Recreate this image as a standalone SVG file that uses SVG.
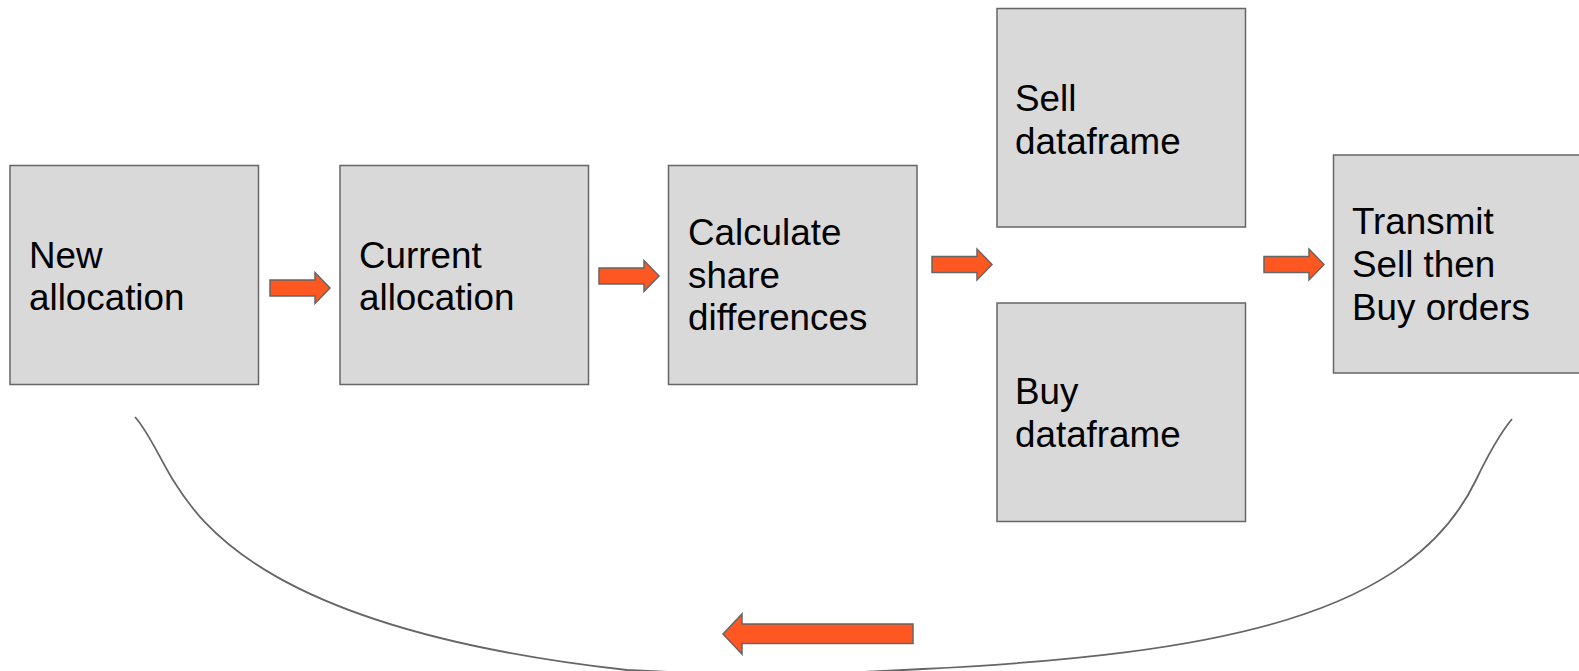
<svg xmlns="http://www.w3.org/2000/svg" width="1579" height="671" viewBox="0 0 1579 671">
  <style>
    .box { fill: #d9d9d9; stroke: #666666; stroke-width: 1.5; }
    .lbl { font-family: "Liberation Sans", Arial, sans-serif; font-size: 36.8px; fill: #000000; }
    .arrow { fill: #ff5722; stroke: #666666; stroke-width: 1.5; stroke-linejoin: miter; }
    .curve { fill: none; stroke: #666666; stroke-width: 1.8; }
  </style>
  <defs>
    <path id="smallArrow" d="M0,-8 H45 V-15.5 L60,0 L45,15.5 V8 H0 Z"/>
  </defs>
  <rect width="1579" height="671" fill="#ffffff"/>

  <g id="node-new-allocation">
    <rect class="box" x="10" y="165.5" width="248.5" height="219"/>
    <text class="lbl" x="29" y="267.5">New</text>
    <text class="lbl" x="29" y="310">allocation</text>
  </g>

  <g id="node-current-allocation">
    <rect class="box" x="340" y="165.5" width="248.5" height="219"/>
    <text class="lbl" x="359" y="267.5">Current</text>
    <text class="lbl" x="359" y="310">allocation</text>
  </g>

  <g id="node-calculate">
    <rect class="box" x="668.5" y="165.5" width="248.5" height="219"/>
    <text class="lbl" x="688" y="245">Calculate</text>
    <text class="lbl" x="688" y="287.5">share</text>
    <text class="lbl" x="688" y="330">differences</text>
  </g>

  <g id="node-sell">
    <rect class="box" x="997" y="8.5" width="248.5" height="218.5"/>
    <text class="lbl" x="1015" y="110.5">Sell</text>
    <text class="lbl" x="1015" y="153.5">dataframe</text>
  </g>

  <g id="node-buy">
    <rect class="box" x="997" y="303" width="248.5" height="218.5"/>
    <text class="lbl" x="1015" y="404">Buy</text>
    <text class="lbl" x="1015" y="447">dataframe</text>
  </g>

  <g id="node-transmit">
    <rect class="box" x="1333.5" y="155" width="248.5" height="218"/>
    <text class="lbl" x="1352" y="234">Transmit</text>
    <text class="lbl" x="1352" y="277">Sell then</text>
    <text class="lbl" x="1352" y="320">Buy orders</text>
  </g>

  <g id="connectors">
    <use href="#smallArrow" class="arrow" transform="translate(270,288)"/>
    <use href="#smallArrow" class="arrow" transform="translate(599,276)"/>
    <use href="#smallArrow" class="arrow" transform="translate(932,264.5)"/>
    <use href="#smallArrow" class="arrow" transform="translate(1264,264.5)"/>
    <path class="curve" d="M135,417 C148,431 160,459 173,480 C200,523 268,630 627,670 Q775,678 923,669 C1223,654 1411,615 1476,480 C1488,455 1498,436 1512,419"/>
    <path class="arrow" d="M913,624 H742 V614 L723,634 L742,654 V643.5 H913 Z"/>
  </g>
</svg>
